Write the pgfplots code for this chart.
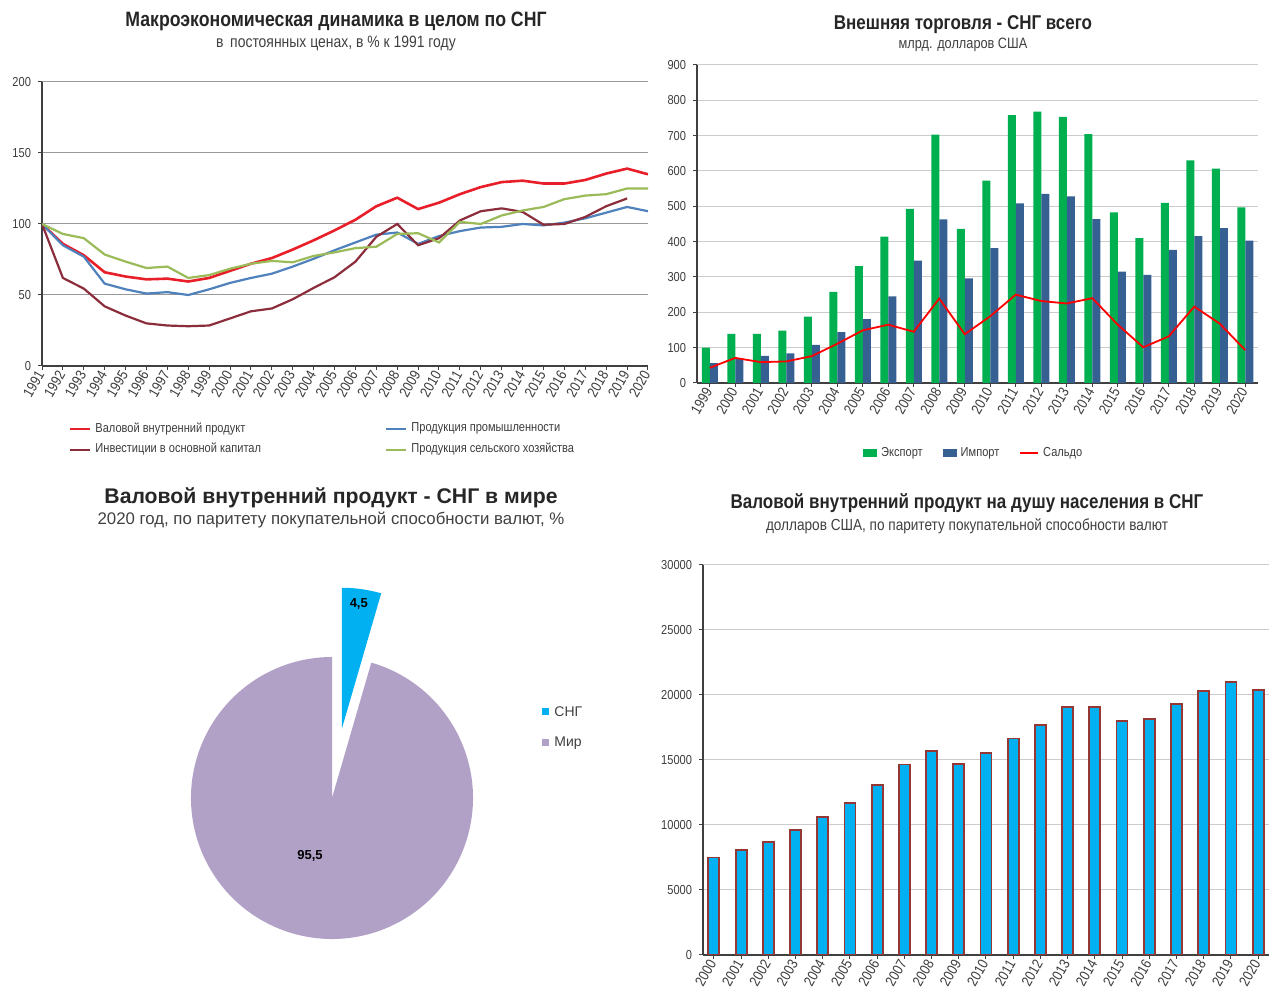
\documentclass[border=0pt]{standalone}
\usepackage{pgfplots}
\pgfplotsset{compat=1.18}
\usepackage{pgfplotstable}
\usepackage{fontspec}
\setmainfont{Liberation Sans}
\newfontfamily\nf[FakeStretch=0.85]{Liberation Sans}

\definecolor{cgdp}{RGB}{232,30,40}
\definecolor{cind}{RGB}{79,129,189}
\definecolor{cinv}{RGB}{140,45,60}
\definecolor{cagr}{RGB}{155,187,89}
\definecolor{cexp}{RGB}{0,176,80}
\definecolor{cimp}{RGB}{54,96,146}
\definecolor{csal}{RGB}{255,0,0}
\definecolor{ccyan}{RGB}{0,176,240}
\definecolor{cedge}{RGB}{149,55,53}
\definecolor{cpurp}{RGB}{178,161,199}
\definecolor{ctick}{RGB}{60,60,60}

\pgfplotstableread{
year gdp ind inv agr
1991 100 100 100 100
1992 86 85 62 93
1993 78 77 54.5 90
1994 66 58 42 78.5
1995 63 54 35.5 73.5
1996 61 51 30 69
1997 61.5 52 28.5 70
1998 59.5 50 28 62
1999 62 54 28.5 64
2000 67 58.5 33.5 68.5
2001 72 62 38.5 72
2002 76 65 40.5 74
2003 82 70 47 73
2004 88.5 75.5 55 77.5
2005 95.5 81.5 62.5 80
2006 103 87 73.5 83
2007 112.5 92.5 91 84
2008 118.5 94 100 93
2009 110.5 86 85 93.5
2010 115 91.5 90 87
2011 121 95 102.5 101.5
2012 126 97.5 109 100
2013 129.5 98 111 106
2014 130.5 100 108.5 109.5
2015 128.5 99 99.5 112
2016 128.5 101 100 117.5
2017 131 104 105 120
2018 135.5 108 112.5 121
2019 139 112 118 125
2020 135 109 nan 125
}\macrodata

\pgfplotstableread{
year exp imp sal
1999 100 56 43
2000 139 70 71
2001 139 77 59
2002 148 84 61
2003 188 108 76
2004 258 144 111
2005 331 181 149
2006 414 245 165
2007 493 346 145
2008 703 463 239
2009 436 296 138
2010 573 382 189
2011 758 508 250
2012 768 535 232
2013 753 528 225
2014 704 464 240
2015 483 315 165
2016 410 306 101
2017 510 377 132
2018 630 416 216
2019 607 438 168
2020 497 403 93
}\tradedata

\pgfplotstableread{
year gdppc
2000 7500
2001 8100
2002 8700
2003 9600
2004 10600
2005 11700
2006 13100
2007 14650
2008 15700
2009 14700
2010 15550
2011 16650
2012 17700
2013 19050
2014 19050
2015 18000
2016 18150
2017 19300
2018 20300
2019 21000
2020 20400
}\pcdata

\def\pieCIS{4.5}
\def\pieWorld{95.5}

\pgfplotsset{
  common/.style={
    scale only axis,
    anchor=south west,
    axis lines=left,
    axis line style={-, draw=black!75, line width=0.6pt},
    tick align=outside,
    major tick length=2pt,
    tick style={draw=black!75, line width=0.5pt},
    ymajorgrids,
    /pgf/number format/assume math mode=true,
    /pgf/number format/1000 sep={},
    scaled y ticks=false,
    tick label style={font=\nf\fontsize{6.5}{7}\selectfont, text=ctick},
    xticklabel style={rotate=60, anchor=east, inner sep=1.2pt, font=\nf\fontsize{7.3}{8}\selectfont},
    legend cell align=left,
    legend style={draw=none, fill=none, font=\nf\fontsize{6.5}{7}\selectfont, text=ctick},
  },
}

\begin{document}
\begin{tikzpicture}
\path[use as bounding box] (0,0) rectangle (634.5pt,500pt);

% ---------- Panel 1 ----------
\node[font=\nf\bfseries\fontsize{10.4}{12}\selectfont, text=black!85] at (168pt,489.5pt) {Макроэкономическая динамика в целом по СНГ};
\node[font=\nf\fontsize{8.2}{9}\selectfont, text=black!75] at (168pt,478.5pt) {в\, постоянных ценах, в \% к 1991 году};
\begin{axis}[common,
  at={(21pt,317pt)}, width=303pt, height=142pt,
  xmin=1991, xmax=2020, ymin=0, ymax=200,
  xtick={1991,...,2020}, ytick={0,50,...,200},
  grid style={black!40, line width=0.5pt},
  legend columns=2,
  legend style={at={(0.465,-0.17)}, anchor=north, row sep=0pt},
  legend image code/.code={\draw[#1, line width=1pt] (0pt,0pt) -- (10pt,0pt);},
]
\addplot[cgdp, line width=1.3pt] table[x=year, y=gdp] {\macrodata};
\addlegendentry{\makebox[143pt][l]{Валовой внутренний продукт}}
\addplot[cind, line width=1.1pt] table[x=year, y=ind] {\macrodata};
\addlegendentry{Продукция промышленности}
\addplot[cinv, line width=1.1pt] table[x=year, y=inv] {\macrodata};
\addlegendentry{\makebox[143pt][l]{Инвестиции в основной капитал}}
\addplot[cagr, line width=1.1pt] table[x=year, y=agr] {\macrodata};
\addlegendentry{Продукция сельского хозяйства}
\end{axis}

% ---------- Panel 2 ----------
\node[font=\nf\bfseries\fontsize{10}{12}\selectfont, text=black!85] at (481.5pt,487.5pt) {Внешняя торговля - СНГ всего};
\node[font=\nf\fontsize{7.5}{8}\selectfont, text=black!75] at (481.5pt,477.5pt) {млрд. долларов США};
\begin{axis}[common,
  at={(348.5pt,308.5pt)}, width=280.5pt, height=159pt,
  xmin=1998.5, xmax=2020.5, ymin=0, ymax=900,
  xtick={1999,...,2020}, ytick={0,100,...,900},
  grid style={black!20, line width=0.5pt},
  legend columns=3,
  legend style={at={(0.495,-0.175)}, anchor=north, /tikz/every even column/.append style={column sep=8pt}},
]
\addplot[ybar, bar width=4pt, bar shift=-2pt, fill=cexp, draw=none,
  legend image code/.code={\fill[cexp] (0pt,-2pt) rectangle (7pt,2pt);}]
  table[x=year, y=exp] {\tradedata};
\addlegendentry{Экспорт}
\addplot[ybar, bar width=4pt, bar shift=2pt, fill=cimp, draw=none,
  legend image code/.code={\fill[cimp] (0pt,-2pt) rectangle (7pt,2pt);}]
  table[x=year, y=imp] {\tradedata};
\addlegendentry{Импорт}
\addplot[csal, line width=0.9pt, mark=none,
  legend image code/.code={\draw[csal, line width=0.9pt] (0pt,0pt) -- (9pt,0pt);}]
  table[x=year, y=sal] {\tradedata};
\addlegendentry{Сальдо}
\end{axis}

% ---------- Panel 3 (pie) ----------
\node[font=\bfseries\fontsize{10.6}{12}\selectfont, text=black!85] at (165.5pt,251pt) {Валовой внутренний продукт - СНГ в мире};
\node[font=\fontsize{8.4}{9}\selectfont, text=black!75] at (165.5pt,240pt) {2020 год, по паритету покупательной способности валют, \%};
\begin{axis}[at={(166pt,101pt)}, anchor=origin, hide axis,
  x=70.5pt, y=70.5pt, xmin=-1.05, xmax=1.05, ymin=-1.05, ymax=1.6, clip=false]
  \pgfmathsetmacro\angA{90-3.6*\pieCIS}
  \pgfmathsetmacro\angM{90-1.8*\pieCIS}
  \pgfmathsetmacro\offx{0.496*cos(\angM)}
  \pgfmathsetmacro\offy{0.496*sin(\angM)}
  \fill[cpurp] (axis cs:0,0) -- (axis cs:{cos(\angA)},{sin(\angA)}) arc[start angle=\angA, end angle=-270, radius=70.5pt] -- cycle;
  \fill[ccyan] (axis cs:\offx,\offy) -- (axis cs:\offx,{\offy+1}) arc[start angle=90, end angle=\angA, radius=70.5pt] -- cycle;
  \node[font=\bfseries\fontsize{6.5}{7}\selectfont] at (axis cs:0.19,1.376) {4,5};
  \node[font=\bfseries\fontsize{6.5}{7}\selectfont] at (axis cs:-0.156,-0.411) {95,5};
\end{axis}
\fill[ccyan] (270.8pt,142.3pt) rectangle (274.3pt,145.8pt);
\node[anchor=west, font=\fontsize{7}{8}\selectfont, text=black!75, inner sep=1pt] at (276pt,144pt) {СНГ};
\fill[cpurp] (270.8pt,126.8pt) rectangle (274.3pt,130.3pt);
\node[anchor=west, font=\fontsize{7}{8}\selectfont, text=black!75, inner sep=1pt] at (276pt,128.5pt) {Мир};

% ---------- Panel 4 ----------
\node[font=\nf\bfseries\fontsize{10}{12}\selectfont, text=black!85] at (483.5pt,248.5pt) {Валовой внутренний продукт на душу населения в СНГ};
\node[font=\nf\fontsize{8}{9}\selectfont, text=black!75] at (483.5pt,237pt) {долларов США, по паритету покупательной способности валют};
\begin{axis}[common,
  at={(351.5pt,22.5pt)}, width=283pt, height=195pt,
  xmin=1999.6, xmax=2020.4, ymin=0, ymax=30000,
  xtick={2000,...,2020}, ytick={0,5000,...,30000},
  grid style={black!20, line width=0.5pt},
]
\addplot[ybar, bar width=5.5pt, fill=ccyan, draw=cedge, line width=0.9pt]
  table[x=year, y=gdppc] {\pcdata};
\end{axis}
\end{tikzpicture}
\end{document}
